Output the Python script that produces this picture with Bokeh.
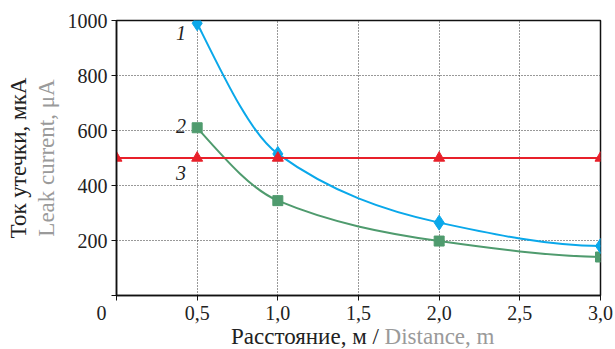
from bokeh.plotting import figure
from bokeh.models import (LinearAxis, FixedTicker, CustomJSTickFormatter, Label, Range1d, Div)
from bokeh.layouts import column
from bokeh.embed import file_html
from bokeh.resources import INLINE
import numpy as np

# ---- data ----
dist = [0.5, 1.0, 2.0, 3.0]
curve1 = [990, 515, 265, 180]      # series 1 (blue)
curve2 = [610, 345, 198, 140]      # series 2 (green)
dist3 = [0.0, 0.5, 1.0, 2.0, 3.0]
curve3 = [500, 500, 500, 500, 500] # series 3 (red)
x_ticks = [0, 0.5, 1.0, 1.5, 2.0, 2.5, 3.0]
y_ticks = [0, 200, 400, 600, 800, 1000]
curve_names = ["1", "2", "3"]
curve_name_y = [953, 618, 447]
y_title_ru = "Ток утечки, мкА"
y_title_en = "Leak current, μA"
x_title_ru = "Расстояние, м /"
x_title_en = "Distance, m"

FONT = "Liberation Serif"
BLUE = "#0AA8EA"
GREEN = "#4F9B6E"
RED = "#E8202A"
GRAY = "#9A9A9A"
INK = "#222222"

p = figure(width=615, height=326, output_backend="svg", toolbar_location=None,
           x_range=Range1d(0, 3.0), y_range=Range1d(0, 1000),
           min_border_left=116, min_border_right=15, min_border_top=20, min_border_bottom=31)
p.background_fill_color = "white"
p.border_fill_color = "white"
p.outline_line_color = "#111111"
p.outline_line_width = 1.5

# axes
p.xaxis.ticker = FixedTicker(ticks=x_ticks)
p.yaxis.ticker = FixedTicker(ticks=y_ticks)
p.xaxis.formatter = CustomJSTickFormatter(
    code="if (tick == 0) {return '0\\u2007\\u2007\\u2007';} return tick.toFixed(1).replace('.', ',');")
p.yaxis.formatter = CustomJSTickFormatter(code="if (tick == 0) {return '';} return tick.toFixed(0);")
for ax in (p.xaxis[0], p.yaxis[0]):
    ax.axis_line_color = "#111111"
    ax.axis_line_width = 1.5
    ax.major_tick_line_color = "#111111"
    ax.major_tick_out = 5
    ax.major_tick_in = 0
    ax.minor_tick_line_color = None
    ax.major_label_text_font = FONT
    ax.major_label_text_font_size = "20px"
    ax.major_label_text_color = INK
p.xaxis.major_label_standoff = 1
p.yaxis.major_label_standoff = 4
p.yaxis.axis_label = y_title_en
p.yaxis.axis_label_text_font = FONT
p.yaxis.axis_label_text_font_size = "23px"
p.yaxis.axis_label_text_font_style = "normal"
p.yaxis.axis_label_text_color = GRAY
p.yaxis.axis_label_standoff = 6

extra = LinearAxis(ticker=FixedTicker(ticks=[]),
                   axis_label=y_title_ru, axis_line_color=None,
                   major_tick_line_color=None, minor_tick_line_color=None)
extra.axis_label_text_font = FONT
extra.axis_label_text_font_size = "23px"
extra.axis_label_text_font_style = "normal"
extra.axis_label_text_color = INK
extra.axis_label_standoff = 0
p.add_layout(extra, "left")

# grid
p.xgrid.grid_line_color = "#333333"
p.xgrid.grid_line_dash = "1 2"
p.ygrid.grid_line_color = "#333333"
p.ygrid.grid_line_dash = "1 2"


def pchip_beziers(x, y):
    x = np.asarray(x, float); y = np.asarray(y, float)
    h = np.diff(x); d = np.diff(y) / h
    n = len(x); m = np.zeros(n)
    for k in range(1, n - 1):
        if d[k - 1] * d[k] > 0:
            w1 = 2 * h[k] + h[k - 1]; w2 = h[k] + 2 * h[k - 1]
            m[k] = (w1 + w2) / (w1 / d[k - 1] + w2 / d[k])
    m[0] = ((2 * h[0] + h[1]) * d[0] - h[0] * d[1]) / (h[0] + h[1])
    m[-1] = ((2 * h[-1] + h[-2]) * d[-1] - h[-1] * d[-2]) / (h[-1] + h[-2])
    return dict(x0=x[:-1], y0=y[:-1], x1=x[1:], y1=y[1:],
                cx0=x[:-1] + h / 3, cy0=y[:-1] + m[:-1] * h / 3,
                cx1=x[1:] - h / 3, cy1=y[1:] - m[1:] * h / 3)


b1 = pchip_beziers(dist, curve1)
b2 = pchip_beziers(dist, curve2)
p.bezier(line_color=GREEN, line_width=2, **b2)
p.bezier(line_color=BLUE, line_width=2, **b1)
p.line(dist3, curve3, line_color=RED, line_width=2)

p.scatter(dist, curve2, marker="square", size=10, fill_color=GREEN, line_color=GREEN)
p.scatter(dist, curve1, marker="diamond", size=15, fill_color=BLUE, line_color=BLUE)
p.scatter(dist3, curve3, marker="triangle", size=11, fill_color=RED, line_color=RED)

# curve numbers
for name, yy in zip(curve_names, curve_name_y):
    p.add_layout(Label(x=0.40, y=yy, text=name, text_font=FONT, text_font_size="20px",
                       text_font_style="italic", text_color=INK,
                       text_align="center", text_baseline="middle"))

# x axis title in two colours (HTML text below the plot)
xtitle = Div(
    text=(f'<div style="font-family:\'Liberation Serif\',serif; font-size:23px; line-height:22px; '
          f'padding-left:231px; white-space:nowrap; color:{INK};">'
          f'{x_title_ru} <span style="color:{GRAY};">{x_title_en}</span></div>'),
    width=615, height=23, margin=0)

layout = column(p, xtitle, spacing=0)
open("out.html", "w").write(file_html(layout, INLINE))
